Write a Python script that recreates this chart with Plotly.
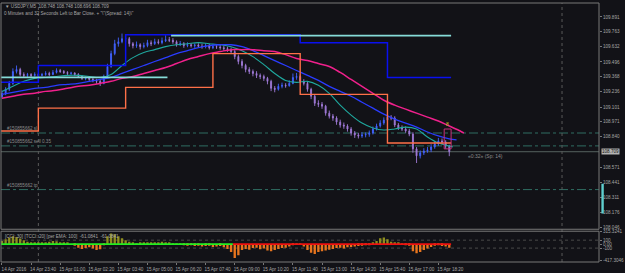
import plotly.graph_objects as go
import pandas as pd

# ---------------- data ----------------
BAR_TIMES = pd.date_range("2016-04-14 22:20", periods=124, freq="10min")

OPEN = [109.190,109.221,109.256,109.308,109.412,109.430,109.386,109.378,109.386,109.378,
        109.386,109.378,109.386,109.395,109.386,109.404,109.421,109.412,109.404,109.395,
        109.399,109.386,109.369,109.352,109.356,109.343,109.334,109.326,109.308,109.369,
        109.456,109.569,109.656,109.673,109.700,109.700,109.656,109.639,109.647,109.630,
        109.639,109.665,109.656,109.673,109.665,109.682,109.691,109.686,109.673,109.647,
        109.656,109.639,109.647,109.639,109.644,109.634,109.630,109.639,109.621,109.630,
        109.626,109.621,109.613,109.604,109.587,109.543,109.500,109.465,109.430,109.412,
        109.395,109.378,109.369,109.352,109.326,109.265,109.256,109.282,109.291,109.287,
        109.308,109.360,109.369,109.326,109.308,109.256,109.195,109.134,109.125,109.108,
        109.047,109.021,109.004,108.969,108.943,108.934,108.908,108.873,108.856,108.847,
        108.856,108.861,108.873,108.908,108.934,108.960,108.986,109.012,109.004,108.943,
        108.917,108.908,108.891,108.864,108.734,108.673,108.699,108.716,108.725,108.751,
        108.777,108.804,108.795,108.760]
CLOSE = [109.221,109.256,109.308,109.412,109.430,109.386,109.378,109.386,109.378,109.386,
         109.378,109.386,109.395,109.386,109.404,109.421,109.412,109.404,109.395,109.399,
         109.386,109.369,109.352,109.356,109.343,109.334,109.326,109.308,109.369,109.456,
         109.569,109.656,109.673,109.700,109.700,109.656,109.639,109.647,109.630,109.639,
         109.665,109.656,109.673,109.665,109.682,109.691,109.686,109.673,109.647,109.656,
         109.639,109.647,109.639,109.644,109.634,109.630,109.639,109.621,109.630,109.626,
         109.621,109.613,109.604,109.587,109.543,109.500,109.465,109.430,109.412,109.395,
         109.378,109.369,109.352,109.326,109.265,109.256,109.282,109.291,109.287,109.308,
         109.360,109.369,109.326,109.308,109.256,109.195,109.134,109.125,109.108,109.047,
         109.021,109.004,108.969,108.943,108.934,108.908,108.873,108.856,108.847,108.856,
         108.861,108.873,108.908,108.934,108.960,108.986,109.012,109.004,108.943,108.917,
         108.908,108.891,108.864,108.734,108.673,108.699,108.716,108.725,108.751,108.777,
         108.804,108.795,108.760,108.709]
HIGH = [109.245,109.275,109.330,109.440,109.465,109.445,109.405,109.400,109.398,109.405,
        109.395,109.400,109.415,109.410,109.425,109.440,109.435,109.425,109.415,109.410,
        109.405,109.398,109.380,109.368,109.365,109.355,109.348,109.340,109.385,109.480,
        109.595,109.690,109.710,109.745,109.735,109.715,109.670,109.675,109.660,109.665,
        109.690,109.685,109.700,109.695,109.710,109.730,109.715,109.705,109.685,109.680,
        109.670,109.668,109.660,109.658,109.660,109.655,109.660,109.655,109.650,109.648,
        109.645,109.640,109.630,109.622,109.600,109.560,109.520,109.480,109.450,109.430,
        109.415,109.395,109.385,109.365,109.340,109.285,109.305,109.315,109.310,109.335,
        109.395,109.400,109.385,109.345,109.320,109.270,109.210,109.160,109.145,109.120,
        109.070,109.040,109.020,108.990,108.965,108.950,108.925,108.890,108.875,108.880,
        108.878,108.895,108.930,108.955,108.985,109.010,109.040,109.030,109.020,108.960,
        108.940,108.930,108.910,108.880,108.750,108.720,108.740,108.750,108.775,108.800,
        108.830,108.825,108.810,108.770]
LOW = [109.175,109.205,109.240,109.295,109.395,109.370,109.360,109.365,109.362,109.368,
       109.360,109.370,109.375,109.372,109.380,109.395,109.400,109.390,109.380,109.382,
       109.372,109.355,109.338,109.335,109.330,109.318,109.305,109.285,109.300,109.360,
       109.445,109.555,109.630,109.660,109.670,109.630,109.615,109.620,109.605,109.615,
       109.625,109.635,109.645,109.650,109.650,109.670,109.670,109.655,109.630,109.635,
       109.620,109.625,109.622,109.620,109.622,109.612,109.615,109.605,109.608,109.610,
       109.603,109.595,109.585,109.565,109.520,109.475,109.440,109.405,109.390,109.370,
       109.355,109.345,109.330,109.300,109.240,109.230,109.245,109.265,109.270,109.280,
       109.300,109.340,109.310,109.290,109.235,109.170,109.110,109.100,109.085,109.025,
       109.000,108.980,108.945,108.920,108.910,108.885,108.850,108.830,108.825,108.830,
       108.835,108.840,108.860,108.895,108.920,108.945,108.970,108.985,108.925,108.900,
       108.890,108.875,108.845,108.700,108.610,108.650,108.680,108.700,108.705,108.735,
       108.760,108.775,108.735,108.670]

MA_TIMES = list(pd.date_range("2016-04-14 22:20", periods=42, freq="30min"))
FAST_MA = [109.238,109.282,109.326,109.352,109.360,109.369,109.378,109.378,109.369,109.360,
           109.386,109.465,109.534,109.578,109.604,109.630,109.647,109.656,109.665,109.656,
           109.647,109.630,109.595,109.543,109.473,109.395,109.334,109.317,109.326,109.291,
           109.221,109.117,109.030,108.960,108.917,108.899,108.908,108.925,108.908,108.838,
           108.786,108.760, 108.751]
FAST_TIMES = MA_TIMES + [pd.Timestamp("2016-04-15 19:00")]
MID_MA = [109.212,109.230,109.247,109.265,109.273,109.291,109.299,109.308,109.326,109.343,
          109.360,109.395,109.430,109.465,109.500,109.534,109.569,109.595,109.621,109.639,
          109.647,109.647,109.630,109.595,109.552,109.508,109.465,109.421,109.378,109.334,
          109.282,109.238,109.195,109.143,109.091,109.038,108.995,108.960,108.925,108.882,
          108.847,108.821, 108.812]
MID_TIMES = MA_TIMES + [pd.Timestamp("2016-04-15 19:10")]
SLOW_EMA = [109.178,109.195,109.212,109.221,109.238,109.247,109.265,109.282,109.291,109.308,
            109.326,109.352,109.369,109.395,109.421,109.447,109.482,109.517,109.543,109.569,
            109.587,109.604,109.604,109.604,109.595,109.587,109.560,109.526,109.508,109.482,
            109.456,109.404,109.343,109.282,109.221,109.160,109.117,109.082,109.047,109.012,
            108.978,108.934, 108.891,108.873]
SLOW_TIMES = MA_TIMES + [pd.Timestamp("2016-04-15 19:20"), pd.Timestamp("2016-04-15 19:30")]

STEP_TIMES = ["2016-04-14 22:00", "2016-04-15 00:00", "2016-04-15 04:00", "2016-04-15 08:00",
              "2016-04-15 12:00", "2016-04-15 16:00", "2016-04-15 18:55"]
ORANGE_LEVELS = [108.891, 109.091, 109.273, 109.569, 109.212, 108.786, 108.786]
BLUE_LEVELS = [109.317, 109.465, 109.734, 109.734, 109.665, 109.360, 109.360]
CYAN_TIMES = ["2016-04-14 22:00", "2016-04-15 05:55", "2016-04-15 05:58",
              "2016-04-15 06:05", "2016-04-15 18:55"]
CYAN_LEVELS = [109.360, 109.360, None, 109.726, 109.726]

CCI_HIST = [80,120,160,200,180,140,100,60,50,40,
            30,40,50,60,80,70,50,40,30,0,
            -40,-90,-120,-100,-80,-110,-150,-130,-20,200,
            270,250,200,150,100,60,30,20,30,40,
            50,40,30,50,60,40,30,20,20,10,
            -20,-40,-30,-50,-40,-60,-50,-40,-70,-60,
            -50,-80,-120,-200,-350,-280,-150,-120,-140,-100,
            -90,-130,-110,-160,-180,-150,-120,-100,-90,-60,
            -30,20,10,-60,-150,-220,-250,-200,-180,-160,
            -140,-120,-100,-90,-110,-80,-70,-60,-50,-40,
            -30,-20,30,80,150,170,120,60,40,30,
            20,-20,-40,-180,-230,-200,-150,-110,-70,-40,
            -30,-50,-60,-90]
TREND_UP_TIMES = ["2016-04-14 22:15", "2016-04-15 08:55"]
TREND_DN_TIMES = ["2016-04-15 08:55", "2016-04-15 18:55"]
TREND_LEVEL = [0, 0]

PRICE_TICKS = [109.891,109.763,109.632,109.496,109.368,109.236,109.101,108.971,108.840,
               108.571,108.441,108.311,108.176,108.046]
PRICE_TICK_TEXT = ["109.891","109.763","109.632","109.496","109.368","109.236","109.101",
                   "108.971","108.840","108.571","108.441","108.311","108.176","108.046"]
IND_TICKS = [315.3241, 100, 0, -100, -417.3046]
IND_TICK_TEXT = ["315.3241", "100", "0.00", "-100", "-417.3046"]
TIME_TICKS = list(pd.date_range("2016-04-14 22:20", periods=16, freq="80min"))
TIME_TICK_TEXT = ["14 Apr 2016","14 Apr 23:40","15 Apr 01:00","15 Apr 02:20","15 Apr 03:40",
                  "15 Apr 05:00","15 Apr 06:20","15 Apr 07:40","15 Apr 09:00","15 Apr 10:20",
                  "15 Apr 11:40","15 Apr 13:00","15 Apr 14:20","15 Apr 15:40","15 Apr 17:00",
                  "15 Apr 18:20"]
DAY_SEPARATORS = ["2016-04-15 00:00", "2016-04-16 00:00"]

BID = 108.709
ORDER_LEVELS = {"sl": 108.873, "sell 0.35": 108.760, "tp": 108.377}
CURRENT_BOX = dict(t0="2016-04-15 18:36", t1="2016-04-15 18:55", p0=108.734, p1=108.908)
SPREAD_BAR = (108.168, 108.429)

BG = "#121217"
TXT = "#a6a6a6"
FONT = "Liberation Sans, Arial, sans-serif"
FS = 4.6

# ---------------- figure ----------------
fig = go.Figure()

fig.add_trace(go.Candlestick(
    x=BAR_TIMES, open=OPEN, high=HIGH, low=LOW, close=CLOSE, yaxis="y", xaxis="x",
    increasing=dict(line=dict(color="#4262ff", width=0.9), fillcolor="#4262ff"),
    decreasing=dict(line=dict(color="#a07ad8", width=0.9), fillcolor="#a07ad8"),
    whiskerwidth=0, hoverinfo="skip"))

fig.add_trace(go.Scatter(x=FAST_TIMES, y=FAST_MA, mode="lines", line=dict(color="#1fa89e", width=1.1, shape="spline"), yaxis="y"))
fig.add_trace(go.Scatter(x=MID_TIMES, y=MID_MA, mode="lines", line=dict(color="#2a3cff", width=1.3, shape="spline"), yaxis="y"))
fig.add_trace(go.Scatter(x=SLOW_TIMES, y=SLOW_EMA, mode="lines", line=dict(color="#f0208c", width=1.5, shape="spline"), yaxis="y"))

fig.add_trace(go.Scatter(x=STEP_TIMES, y=ORANGE_LEVELS, mode="lines", line=dict(color="#ff7048", width=1.4, shape="hv"), yaxis="y"))
fig.add_trace(go.Scatter(x=STEP_TIMES, y=BLUE_LEVELS, mode="lines", line=dict(color="#0a10f0", width=1.5, shape="hv"), yaxis="y"))
fig.add_trace(go.Scatter(x=CYAN_TIMES, y=CYAN_LEVELS, mode="lines", line=dict(color="#86dcd8", width=1.8), yaxis="y", connectgaps=False))

hist_colors = ["#8e8e1e" if v >= 0 else "#e8751e" for v in CCI_HIST]
fig.add_trace(go.Bar(x=BAR_TIMES, y=CCI_HIST, marker=dict(color=hist_colors, line=dict(width=0)), yaxis="y2", xaxis="x"))
fig.add_trace(go.Scatter(x=TREND_UP_TIMES, y=TREND_LEVEL, mode="lines", line=dict(color="#22ee22", width=1.6), yaxis="y2"))
fig.add_trace(go.Scatter(x=TREND_DN_TIMES, y=TREND_LEVEL, mode="lines", line=dict(color="#ee1111", width=1.6), yaxis="y2"))

shapes = []
for name, lvl in ORDER_LEVELS.items():
    shapes.append(dict(type="line", xref="paper", x0=0, x1=1, yref="y", y0=lvl, y1=lvl,
                       line=dict(color="#2f6d62", width=1, dash="dashdot"), layer="below"))
shapes.append(dict(type="line", xref="paper", x0=0, x1=1, yref="y", y0=BID, y1=BID,
                   line=dict(color="#55625f", width=1), layer="below"))
for d in DAY_SEPARATORS:
    shapes.append(dict(type="line", xref="x", x0=d, x1=d, yref="paper", y0=0, y1=1,
                       line=dict(color="#5a5a5a", width=1, dash="dot"), layer="below"))
for lv in [100, -100]:
    shapes.append(dict(type="line", xref="paper", x0=0, x1=1, yref="y2", y0=lv, y1=lv,
                       line=dict(color="#4a4a4a", width=1, dash="dot"), layer="below"))
shapes.append(dict(type="rect", xref="x", x0=CURRENT_BOX["t0"], x1=CURRENT_BOX["t1"], yref="y",
                   y0=CURRENT_BOX["p0"], y1=CURRENT_BOX["p1"], line=dict(color="#c8307c", width=1)))
shapes.append(dict(type="rect", xref="paper", x0=1.004, x1=1.008, yref="y", y0=SPREAD_BAR[0], y1=SPREAD_BAR[1],
                   fillcolor="#5fcfcf", line=dict(width=0)))
MAIN_DOM = [0.1264, 1.0]
IND_DOM = [0.0, 0.1188]
shapes.append(dict(type="rect", xref="paper", yref="paper", x0=0, x1=1, y0=MAIN_DOM[0], y1=MAIN_DOM[1],
                   line=dict(color="#787878", width=1)))
shapes.append(dict(type="rect", xref="paper", yref="paper", x0=0, x1=1, y0=IND_DOM[0], y1=IND_DOM[1],
                   line=dict(color="#787878", width=1)))

annotations = [
    dict(text="\u25bc USDJPY,M5  108.748 108.748 108.696 108.709", xref="paper", yref="paper",
         x=0.004, y=0.985, xanchor="left", yanchor="middle", showarrow=False,
         font=dict(size=FS, color=TXT, family=FONT)),
    dict(text='0 Minutes and 32 Seconds Left to Bar Close. + "\\"(Spread: 14)\\"', xref="paper", yref="paper",
         x=0.002, y=0.958, xanchor="left", yanchor="middle", showarrow=False,
         font=dict(size=FS, color=TXT, family=FONT)),
    dict(text="[CCI: 30] [TCCI: 20] [per EMA: 100]  -61.0841  -61.0841", xref="paper", yref="paper",
         x=0.004, y=0.099, xanchor="left", yanchor="middle", showarrow=False,
         font=dict(size=FS, color=TXT, family=FONT)),
    dict(text="\u00ab0:32\u00bb (Sp: 14)", xref="x", yref="y", x="2016-04-15 19:36", y=108.673,
         xanchor="left", yanchor="middle", showarrow=False, font=dict(size=5, color="#8c8c8c", family=FONT)),
    dict(text="8", xref="x", yref="y", x="2016-04-15 18:44", y=108.951,
         xanchor="center", yanchor="middle", showarrow=False, font=dict(size=5, color="#c2c81e", family=FONT)),
    dict(text="108.709", xref="paper", yref="y", x=1.004, y=BID, xanchor="left", yanchor="middle",
         showarrow=False, bgcolor="#b4b4b4", borderpad=0, font=dict(size=FS, color="#111111", family=FONT)),
]
for name, lvl in ORDER_LEVELS.items():
    annotations.append(dict(text="#150855662 " + name, xref="paper", yref="y", x=0.006, y=lvl,
                            xanchor="left", yanchor="bottom", yshift=0, showarrow=False,
                            font=dict(size=FS, color="#8a8a8a", family=FONT)))

fig.update_layout(
    width=625, height=273,
    margin=dict(l=1, r=21, t=1, b=11),
    paper_bgcolor=BG, plot_bgcolor=BG,
    showlegend=False, bargap=0.35, boxgap=0.62, hovermode=False,
    font=dict(family=FONT, size=FS, color=TXT),
    xaxis=dict(type="date", anchor="y2", domain=[0, 1],
               range=["2016-04-14 22:17:16", "2016-04-16 01:41:42"],
               tickvals=TIME_TICKS, ticktext=TIME_TICK_TEXT, tickangle=0,
               ticks="outside", ticklen=2, tickcolor="#787878", ticklabelshift=12,
               tickfont=dict(size=FS, color=TXT, family=FONT),
               showgrid=False, zeroline=False, showline=False,
               rangeslider=dict(visible=False)),
    yaxis=dict(domain=MAIN_DOM, anchor="x", side="right", range=[108.0292, 110.0128],
               tickvals=PRICE_TICKS, ticktext=PRICE_TICK_TEXT, ticks="outside", ticklen=2,
               tickcolor="#787878", tickfont=dict(size=FS, color=TXT, family=FONT),
               showgrid=False, zeroline=False, showline=False),
    yaxis2=dict(domain=IND_DOM, anchor="x", side="right", range=[-450, 325],
                tickvals=IND_TICKS, ticktext=IND_TICK_TEXT, ticks="outside", ticklen=2,
                tickcolor="#787878", tickfont=dict(size=FS, color=TXT, family=FONT),
                showgrid=False, zeroline=False, showline=False),
    shapes=shapes, annotations=annotations,
)

fig.write_html("out.html")
